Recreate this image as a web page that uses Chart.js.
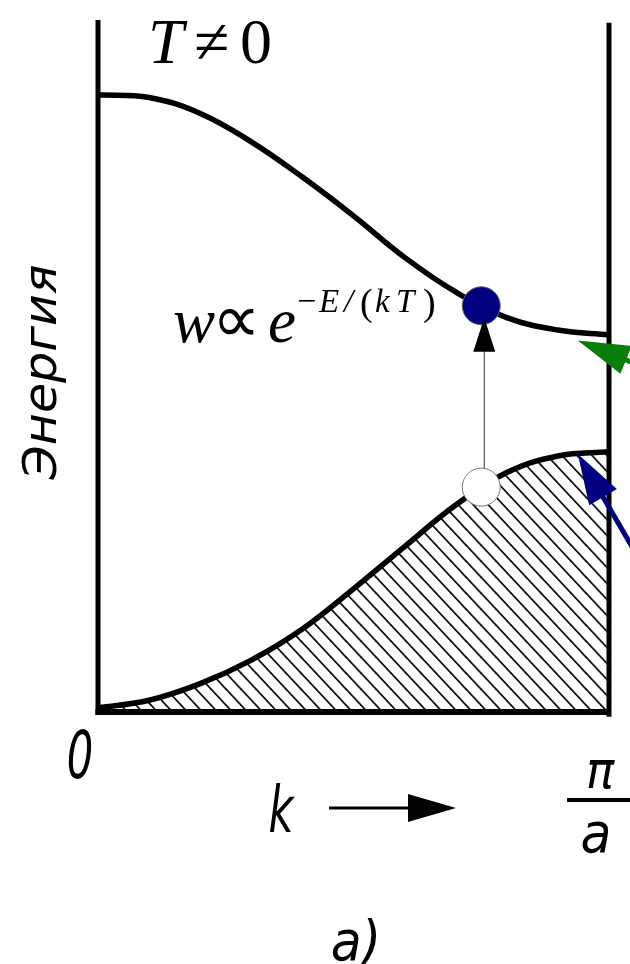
<!DOCTYPE html>
<html>
<head>
<meta charset="utf-8">
<script src="https://cdn.jsdelivr.net/npm/chart.js@4.4.1/dist/chart.umd.min.js"></script>
<style>
    html, body { margin: 0; padding: 0; background: #ffffff; }
    canvas { display: block; }
</style>
</head>
<body>
<canvas id="bandChart" width="630" height="964"></canvas>
<script>
// k from 0 to pi/a (as a fraction), energy in arbitrary units 0..100
const kValues = [0, 0.1, 0.2, 0.3, 0.4, 0.5, 0.6, 0.7, 0.8, 0.9, 1.0];
const upperBand = [89.2, 88.8, 86.5, 82.4, 77.3, 71.7, 65.7, 60.7, 57.0, 55.2, 54.5];
const lowerBand = [0.6, 1.7, 4.1, 7.5, 12.0, 17.8, 23.9, 29.9, 34.6, 37.0, 37.6];

// the excited electron and the hole it leaves
const electronPoint = { x: 0.75, y: 58.7 };
const holePoint = { x: 0.75, y: 32.5 };

// walls of the box: left, right, bottom
const leftWall = [{ x: 0, y: -0.4 }, { x: 0, y: 100 }];
const rightWall = [{ x: 1, y: -0.7 }, { x: 1, y: 99.6 }];
const bottomWall = [{ x: -0.005, y: 0 }, { x: 1, y: 0 }];

// pointer arrows coming in from the right edge
const greenArrow = { tail: { x: 1.21, y: 45.6 }, tip: { x: 0.939, y: 53.7 } };
const blueArrow = { tail: { x: 1.086, y: 18.7 }, tip: { x: 0.939, y: 37.3 } };

function makeHatch() {
    const w = 15, h = 16;
    const c = document.createElement("canvas");
    c.width = w;
    c.height = h;
    const g = c.getContext("2d");
    g.strokeStyle = "#111111";
    g.lineWidth = 1.8;
    for (const dx of [-w, 0, w]) {
        g.beginPath();
        g.moveTo(dx - w, -h);
        g.lineTo(dx + 2 * w, 2 * h);
        g.stroke();
    }
    return g.createPattern(c, "repeat");
}

function drawArrow(ctx, x1, y1, x2, y2, color, shaftWidth, headLen, headHalf, shaftColor) {
    const len = Math.hypot(x2 - x1, y2 - y1);
    const ux = (x2 - x1) / len, uy = (y2 - y1) / len;
    const bx = x2 - ux * headLen, by = y2 - uy * headLen;
    ctx.strokeStyle = shaftColor || color;
    ctx.lineWidth = shaftWidth;
    ctx.beginPath();
    ctx.moveTo(x1, y1);
    ctx.lineTo(bx + ux * 2, by + uy * 2);
    ctx.stroke();
    ctx.fillStyle = color;
    ctx.beginPath();
    ctx.moveTo(x2, y2);
    ctx.lineTo(bx - uy * headHalf, by + ux * headHalf);
    ctx.lineTo(bx + uy * headHalf, by - ux * headHalf);
    ctx.closePath();
    ctx.fill();
}

const labelsPlugin = {
    id: "bandLabels",
    afterDraw(chart) {
        const ctx = chart.ctx;
        const xs = chart.scales.x, ys = chart.scales.y;
        const px = (p) => [xs.getPixelForValue(p.x), ys.getPixelForValue(p.y)];
        ctx.save();

        // thermal excitation arrow from hole to electron
        const [hx, hy] = px(holePoint);
        const [ex, ey] = px(electronPoint);
        drawArrow(ctx, hx + 3, hy - 19, ex + 3, ey + 12, "#000000", 1, 34, 11, "#333333");

        // green and blue pointers
        let a = px(greenArrow.tail), b = px(greenArrow.tip);
        drawArrow(ctx, a[0], a[1], b[0], b[1], "#0a7d0a", 5, 52, 15);
        a = px(blueArrow.tail);
        b = px(blueArrow.tip);
        drawArrow(ctx, a[0], a[1], b[0], b[1], "#000080", 5, 50, 16);

        ctx.fillStyle = "#000000";
        ctx.textBaseline = "alphabetic";
        ctx.textAlign = "left";

        // T != 0
        ctx.font = "italic 64px 'Liberation Serif'";
        ctx.fillText("T", 148, 63);
        ctx.font = "64px 'Liberation Serif'";
        ctx.fillText("\u2260", 194, 63);
        ctx.fillText("0", 240, 63);

        // w ∝ e^{-E/(kT)}
        ctx.font = "italic 63px 'Liberation Serif'";
        ctx.fillText("w", 173, 342);
        ctx.font = "68px 'Liberation Serif'";
        ctx.fillText("\u221D", 212, 342);
        ctx.font = "italic 63px 'Liberation Serif'";
        ctx.fillText("e", 268, 342);
        ctx.font = "34px 'Liberation Serif'";
        ctx.fillText("\u2212", 297, 312);
        ctx.font = "italic 33px 'Liberation Serif'";
        ctx.fillText("E", 319, 312);
        ctx.fillText("/", 344, 312);
        ctx.font = "38px 'Liberation Serif'";
        ctx.fillText("(", 360, 315);
        ctx.font = "italic 33px 'Liberation Serif'";
        ctx.fillText("k", 375, 312);
        ctx.fillText("T", 396, 312);
        ctx.font = "38px 'Liberation Serif'";
        ctx.fillText(")", 423, 315);

        // handwritten-style axis labels
        const hand = "'DejaVu Sans Condensed', 'DejaVu Sans', sans-serif";
        ctx.save();
        ctx.translate(44, 372);
        ctx.rotate(-Math.PI / 2);
        ctx.font = "italic 46px " + hand;
        const tw = ctx.measureText("Энергия").width;
        ctx.scale(215 / tw, 1);
        ctx.textAlign = "center";
        ctx.textBaseline = "middle";
        ctx.fillText("Энергия", 0, 0);
        ctx.restore();

        ctx.save();
        ctx.translate(80, 778);
        ctx.scale(0.7, 1);
        ctx.font = "italic 66px " + hand;
        ctx.textAlign = "center";
        ctx.fillText("0", 0, 0);
        ctx.restore();

        ctx.save();
        ctx.translate(281, 832);
        ctx.scale(0.75, 1);
        ctx.font = "italic 64px " + hand;
        ctx.textAlign = "center";
        ctx.fillText("k", 0, 0);
        ctx.restore();
        drawArrow(ctx, 329, 808, 456, 808, "#000000", 3, 48, 14);

        ctx.textAlign = "center";
        ctx.font = "italic 52px " + hand;
        ctx.fillText("\u03C0", 600, 788);
        ctx.fillRect(567, 798, 63, 4);
        ctx.font = "italic 56px " + hand;
        ctx.fillText("a", 596, 852);

        ctx.font = "italic 56px " + hand;
        ctx.fillText("а)", 356, 960);

        ctx.restore();
    }
};

const ctx = document.getElementById("bandChart").getContext("2d");
const hatch = makeHatch();

const toPoints = (ys) => kValues.map((k, i) => ({ x: k, y: ys[i] }));

new Chart(ctx, {
    type: "line",
    data: {
        datasets: [
            {
                label: "electron",
                type: "scatter",
                data: [electronPoint],
                pointRadius: 19,
                pointBackgroundColor: "#000080",
                pointBorderColor: "#666666",
                pointBorderWidth: 1,
                clip: false,
            },
            {
                label: "hole",
                type: "scatter",
                data: [holePoint],
                pointRadius: 19,
                pointBackgroundColor: "#ffffff",
                pointBorderColor: "#777777",
                pointBorderWidth: 1,
                clip: false,
            },
            {
                label: "upper band",
                data: toPoints(upperBand),
                borderColor: "#000000",
                borderWidth: 5.5,
                pointRadius: 0,
                tension: 0.4,
                fill: false,
                clip: false,
            },
            {
                label: "lower band",
                data: toPoints(lowerBand),
                borderColor: "#000000",
                borderWidth: 5.5,
                pointRadius: 0,
                tension: 0.4,
                fill: "origin",
                backgroundColor: hatch,
                clip: false,
            },
            {
                label: "left wall",
                data: leftWall,
                borderColor: "#000000",
                borderWidth: 5,
                pointRadius: 0,
                clip: false,
            },
            {
                label: "right wall",
                data: rightWall,
                borderColor: "#000000",
                borderWidth: 5,
                pointRadius: 0,
                clip: false,
            },
            {
                label: "bottom",
                data: bottomWall,
                borderColor: "#000000",
                borderWidth: 6,
                pointRadius: 0,
                clip: false,
            },
        ],
    },
    options: {
        responsive: false,
        animation: false,
        events: [],
        layout: { padding: { left: 98, right: 21, top: 15, bottom: 252 } },
        plugins: {
            legend: { display: false },
            tooltip: { enabled: false },
            title: { display: false },
        },
        scales: {
            x: { type: "linear", min: 0, max: 1, display: false },
            y: { type: "linear", min: 0, max: 100, display: false },
        },
    },
    plugins: [labelsPlugin],
});
</script>
</body>
</html>
